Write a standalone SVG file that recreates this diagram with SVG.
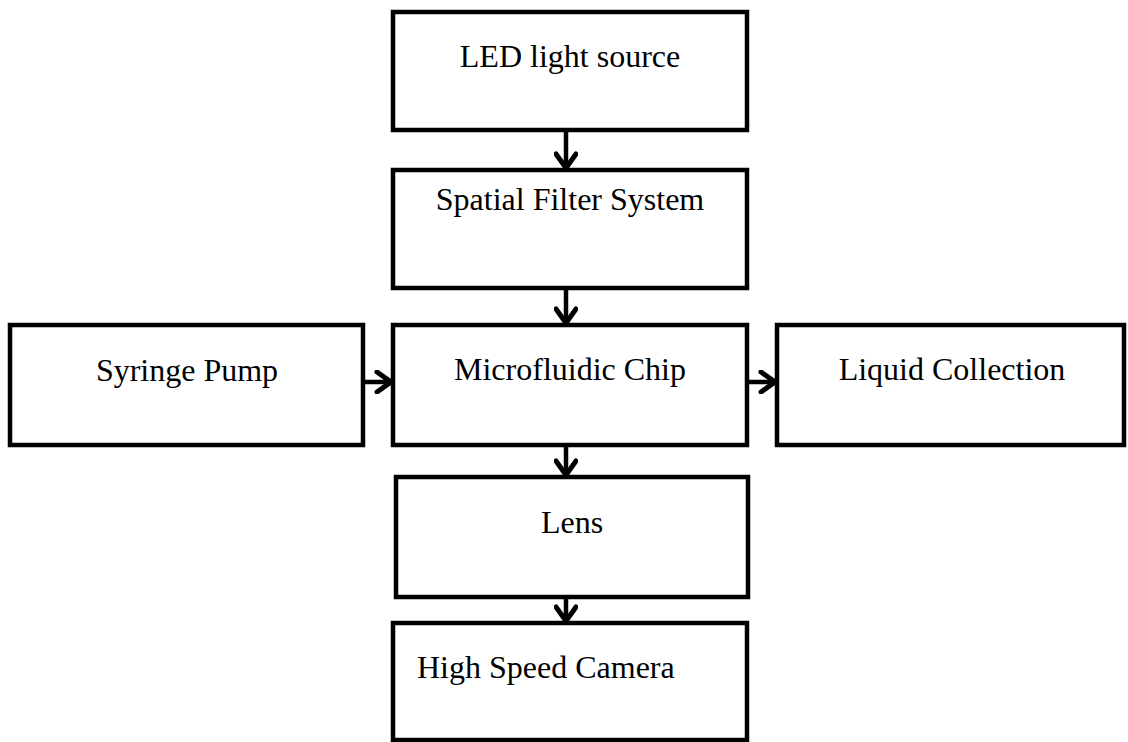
<svg xmlns="http://www.w3.org/2000/svg" width="1128" height="742" viewBox="0 0 1128 742">
  <style>
    .box { fill: #ffffff; stroke: #000000; stroke-width: 4.5; }
    .lbl { font-family: "Liberation Serif", "Times New Roman", serif; font-size: 32px; fill: #000000; }
    .conn { stroke: #000000; stroke-width: 4.5; fill: none; marker-end: url(#arrow); }
  </style>
  <defs>
    <marker id="arrow" viewBox="0 0 24 24" markerUnits="userSpaceOnUse" markerWidth="24" markerHeight="24" refX="20" refY="12" orient="auto">
      <path d="M6,2 L20,12 L6,22" fill="none" stroke="#000000" stroke-width="5" stroke-linecap="round" stroke-linejoin="miter"/>
    </marker>
  </defs>
  <rect width="1128" height="742" fill="#ffffff"/>

  <g id="connectors">
    <line class="conn" x1="566" y1="130" x2="566" y2="168"/>
    <line class="conn" x1="566" y1="288" x2="566" y2="323"/>
    <line class="conn" x1="363" y1="382" x2="391" y2="382"/>
    <line class="conn" x1="747" y1="382" x2="775" y2="382"/>
    <line class="conn" x1="566" y1="445" x2="566" y2="475"/>
    <line class="conn" x1="566" y1="597" x2="566" y2="621"/>
  </g>

  <g id="led">
    <rect class="box" x="393" y="12" width="354" height="118"/>
    <text class="lbl" x="570" y="67" text-anchor="middle">LED light source</text>
  </g>
  <g id="spatial">
    <rect class="box" x="393" y="170" width="354" height="118"/>
    <text class="lbl" x="570" y="210" text-anchor="middle">Spatial Filter System</text>
  </g>
  <g id="syringe">
    <rect class="box" x="10" y="325" width="353" height="120"/>
    <text class="lbl" x="187" y="381" text-anchor="middle">Syringe Pump</text>
  </g>
  <g id="chip">
    <rect class="box" x="393" y="325" width="354" height="120"/>
    <text class="lbl" x="570" y="380" text-anchor="middle">Microfluidic Chip</text>
  </g>
  <g id="collection">
    <rect class="box" x="777" y="325" width="347" height="120"/>
    <text class="lbl" x="952" y="380" text-anchor="middle">Liquid Collection</text>
  </g>
  <g id="lens">
    <rect class="box" x="396" y="477" width="352" height="120"/>
    <text class="lbl" x="572" y="533" text-anchor="middle">Lens</text>
  </g>
  <g id="camera">
    <rect class="box" x="393" y="623" width="354" height="117"/>
    <text class="lbl" x="417" y="678">High Speed Camera</text>
  </g>
</svg>
